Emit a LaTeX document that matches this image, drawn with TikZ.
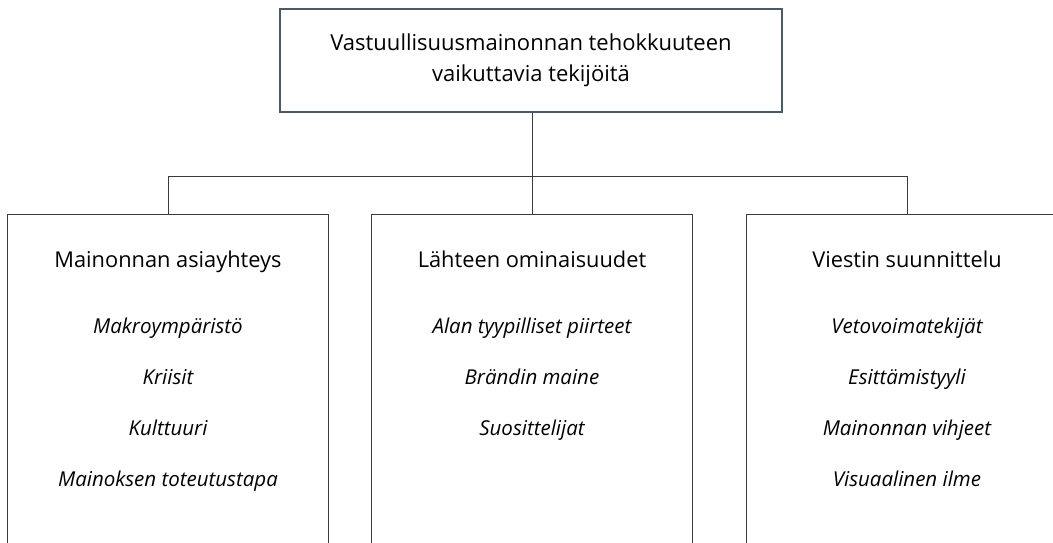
\documentclass[tikz,border=0pt]{standalone}
\usepackage{fontspec}
\setmainfont{Open Sans}
\usetikzlibrary{calc}
\usetikzlibrary{positioning}

\definecolor{slate}{HTML}{4A5A6A}
\definecolor{frame}{HTML}{3A3A3A}

\begin{document}
\begin{tikzpicture}[x = 1pt, y = -1pt]
	\tikzset{mainbox/.style = {rectangle, draw = slate, line width = 1.3pt, minimum width = 502pt, minimum height = 103pt, align = center, font = \fontsize{22}{31}\selectfont}}
	\tikzset{factorbox/.style = {rectangle, draw = frame, line width = 1pt, minimum width = 321pt, minimum height = 360pt, anchor = north}}
	\tikzset{boxtitle/.style = {anchor = base, font = \fontsize{21.8}{26}\selectfont}}
	%% base of a list node = baseline of its last line
	\tikzset{itemlist/.style = {anchor = base, align = center, font = \itshape\fontsize{20.5}{51}\selectfont}}
	\useasboundingbox (0,0) rectangle (1053,542);

%% Main node
\draw (531,60.5) node[mainbox, name = goal]{Vastuullisuusmainonnan tehokkuuteen\\vaikuttavia tekijöitä};

%% Factor boxes
\draw (168,214) node[factorbox, name = context]{};
\draw (532,214) node[factorbox, name = source]{};
\draw (907,214) node[factorbox, name = design]{};

%% Titles
\node[boxtitle, name = contexttitle] at ($(context.north)+(0,53)$) {Mainonnan asiayhteys};
\node[boxtitle, name = sourcetitle] at ($(source.north)+(0,53)$) {Lähteen ominaisuudet};
\node[boxtitle, name = designtitle] at ($(design.north)+(0,53)$) {Viestin suunnittelu};

%% Items
\node[itemlist, name = contextitems] at ($(contexttitle.base)+(0,66+3*51)$) {Makroympäristö\\Kriisit\\Kulttuuri\\Mainoksen toteutustapa};
\node[itemlist, name = sourceitems] at ($(sourcetitle.base)+(0,66+2*51)$) {Alan tyypilliset piirteet\\Brändin maine\\Suosittelijat};
\node[itemlist, name = designitems] at ($(designtitle.base)+(0,66+3*51)$) {Vetovoimatekijät\\Esittämistyyli\\Mainonnan vihjeet\\Visuaalinen ilme};

%% Edges
\coordinate (split) at ($(goal.south)+(1,64)$);
\draw[frame, line width = 1pt] (goal.south -| split) -- (split);
\draw[frame, line width = 1pt] (split) -| (context.north);
\draw[frame, line width = 1pt] (split) -| (design.north);
\draw[frame, line width = 1pt] (split) -- (source.north);
\end{tikzpicture}
\end{document}
